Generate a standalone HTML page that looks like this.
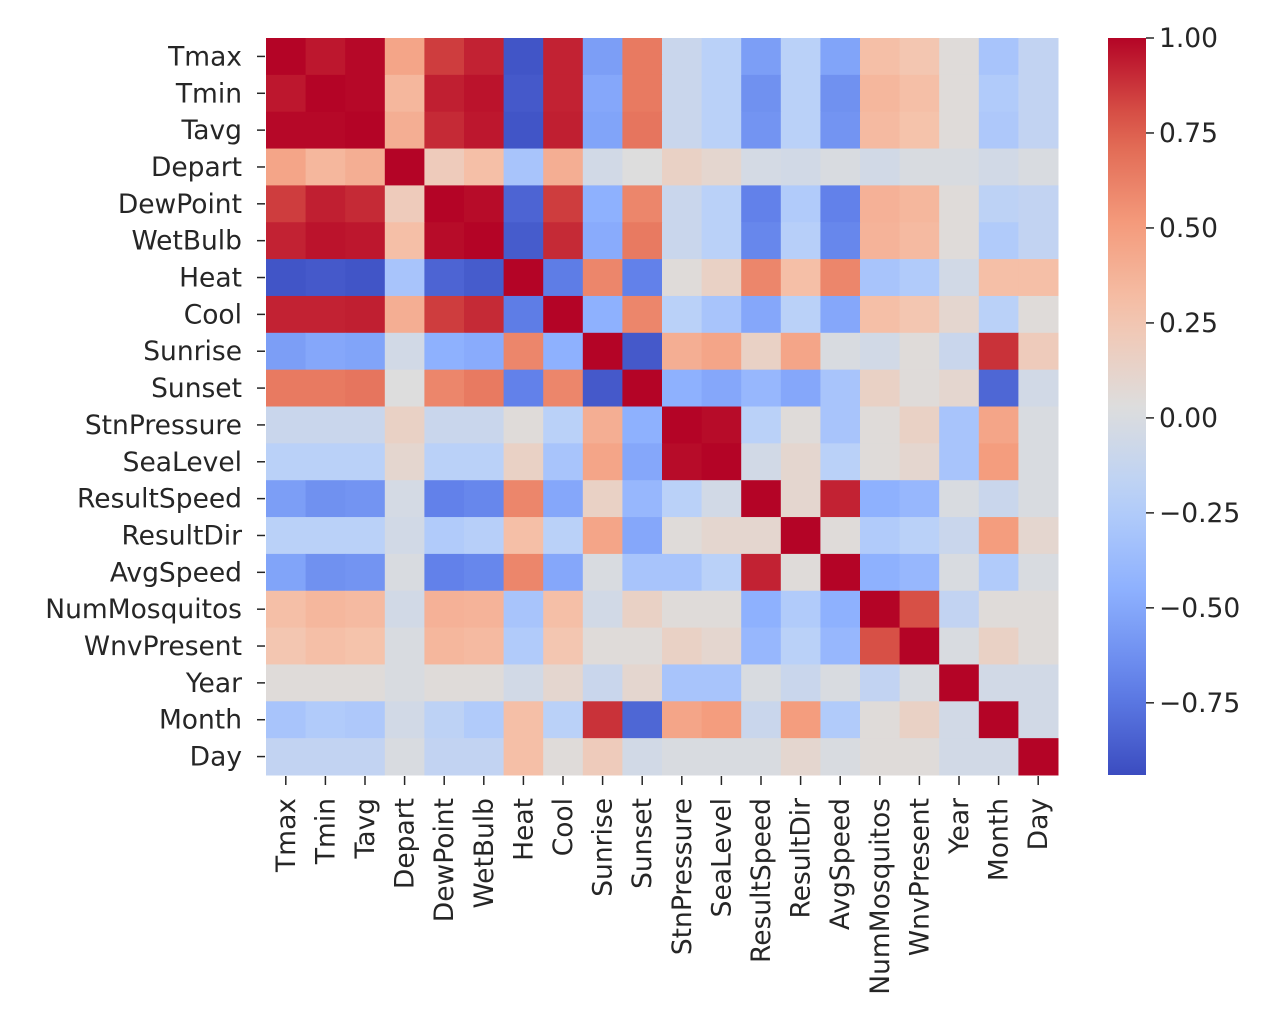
<!DOCTYPE html>
<html><head><meta charset="utf-8"><style>
body{margin:0;background:#fff;width:1270px;height:1022px;overflow:hidden}
text{font-family:"DejaVu Sans","Liberation Sans",sans-serif;fill:#262626}
</style></head><body>
<svg id="chart" width="1270" height="1022" xmlns="http://www.w3.org/2000/svg">
<defs><linearGradient id="cbg" x1="0" y1="1" x2="0" y2="0"></linearGradient></defs>
</svg>
<script>
const labels=["Tmax","Tmin","Tavg","Depart","DewPoint","WetBulb","Heat","Cool","Sunrise","Sunset","StnPressure","SeaLevel","ResultSpeed","ResultDir","AvgSpeed","NumMosquitos","WnvPresent","Year","Month","Day"];
const values=[
[1,.95,.99,.45,.85,.92,-.9,.92,-.55,.65,-.1,-.2,-.55,-.2,-.52,.3,.25,.05,-.3,-.15],
[.95,1,.99,.35,.93,.96,-.88,.92,-.5,.65,-.1,-.2,-.62,-.2,-.62,.35,.3,.05,-.25,-.15],
[.99,.99,1,.4,.9,.95,-.9,.93,-.52,.67,-.1,-.2,-.6,-.2,-.6,.33,.28,.05,-.27,-.15],
[.45,.35,.4,1,.2,.3,-.3,.4,-.05,.03,.15,.1,-.03,-.05,0,-.05,0,0,-.05,0],
[.85,.93,.9,.2,1,.98,-.83,.85,-.45,.6,-.1,-.2,-.7,-.25,-.7,.38,.35,.05,-.18,-.15],
[.92,.96,.95,.3,.98,1,-.87,.9,-.48,.65,-.1,-.2,-.67,-.22,-.67,.37,.33,.05,-.25,-.15],
[-.9,-.88,-.9,-.3,-.83,-.87,1,-.72,.6,-.7,.05,.15,.6,.3,.6,-.3,-.25,-.05,.3,.3],
[.92,.92,.93,.4,.85,.9,-.72,1,-.45,.6,-.2,-.3,-.5,-.2,-.5,.3,.25,.1,-.2,.05],
[-.55,-.5,-.52,-.05,-.45,-.48,.6,-.45,1,-.88,.4,.45,.15,.45,0,-.05,.05,-.1,.88,.2],
[.65,.65,.67,.03,.6,.65,-.7,.6,-.88,1,-.45,-.5,-.4,-.5,-.3,.15,.05,.1,-.82,-.05],
[-.1,-.1,-.1,.15,-.1,-.1,.05,-.2,.4,-.45,1,.98,-.2,.05,-.3,.05,.15,-.3,.45,0],
[-.2,-.2,-.2,.1,-.2,-.2,.15,-.3,.45,-.5,.98,1,-.05,.1,-.2,.05,.1,-.3,.5,0],
[-.55,-.62,-.6,-.03,-.7,-.67,.6,-.5,.15,-.4,-.2,-.05,1,.1,.92,-.45,-.4,0,-.1,0],
[-.2,-.2,-.2,-.05,-.25,-.22,.3,-.2,.45,-.5,.05,.1,.1,1,.05,-.25,-.2,-.1,.5,.1],
[-.52,-.62,-.6,0,-.7,-.67,.6,-.5,0,-.3,-.3,-.2,.92,.05,1,-.45,-.4,0,-.25,0],
[.3,.35,.33,-.05,.38,.37,-.3,.3,-.05,.15,.05,.05,-.45,-.25,-.45,1,.8,-.15,.05,.05],
[.25,.3,.28,0,.35,.33,-.25,.25,.05,.05,.15,.1,-.4,-.2,-.4,.8,1,0,.15,.05],
[.05,.05,.05,0,.05,.05,-.05,.1,-.1,.1,-.3,-.3,0,-.1,0,-.15,0,1,-.05,-.05],
[-.3,-.25,-.27,-.05,-.18,-.25,.3,-.2,.88,-.82,.45,.5,-.1,.5,-.25,.05,.15,-.05,1,-.05],
[-.15,-.15,-.15,0,-.15,-.15,.3,.05,.2,-.05,0,0,0,.1,0,.05,.05,-.05,-.05,1]];
const cbTicks=[1,0.75,0.5,0.25,0,-0.25,-0.5,-0.75];
const cbLabels=["1.00","0.75","0.50","0.25","0.00","\u22120.25","\u22120.50","\u22120.75"];
const vmin=-0.94,vmax=1.0;
const L=266,T=38,R=1058,B=775;
const cw=(R-L)/labels.length,ch=(B-T)/labels.length;
const CBX=1108,CBW=38,FS=26.5;
const cbY=v=>B-(v-vmin)/(vmax-vmin)*(B-T);
const stops=[[59,76,192],[98,130,234],[141,176,254],[184,208,249],[221,221,221],[245,196,173],[244,154,123],[222,96,77],[180,4,38]];
function color(v){let t=Math.max(0,Math.min(1,(v-vmin)/(vmax-vmin)))*8;let i=Math.min(7,Math.floor(t)),f=t-i;
const a=stops[i],b=stops[i+1];return `rgb(${a.map((c,k)=>Math.round(c+(b[k]-c)*f)).join(',')})`;}
const NS="http://www.w3.org/2000/svg",svg=document.getElementById('chart');
function mk(tag,attrs,parent){const e=document.createElementNS(NS,tag);for(const k in attrs)e.setAttribute(k,attrs[k]);(parent||svg).appendChild(e);return e;}
values.forEach((row,r)=>row.forEach((v,c)=>{
const e=mk('rect',{x:L+c*cw,y:T+r*ch,width:cw+0.5,height:ch+0.5,fill:color(v)});


}));
labels.forEach((lab,i)=>{
const y=T+(i+.5)*ch;
mk('line',{x1:L-9,x2:L-1,y1:y,y2:y,stroke:'#262626','stroke-width':1.5});
const t=mk('text',{x:L-24,y:y+9,'text-anchor':'end','font-size':FS});t.textContent=lab;


const x=L+(i+.5)*cw;
mk('line',{x1:x,x2:x,y1:B+1,y2:B+10,stroke:'#262626','stroke-width':1.5});
const t2=mk('text',{x:0,y:0,'text-anchor':'end','font-size':FS,transform:`translate(${x+9},${B+23}) rotate(-90)`});t2.textContent=lab;


});
const g=document.getElementById('cbg');
for(let k=0;k<=20;k++){mk('stop',{offset:k/20,'stop-color':color(vmin+(vmax-vmin)*k/20)},g);}
const cb=mk('rect',{x:CBX,y:T,width:CBW,height:B-T,fill:'url(#cbg)'});


cbTicks.forEach((v,i)=>{const y=cbY(v);
mk('line',{x1:CBX+CBW,x2:CBX+CBW+8,y1:y,y2:y,stroke:'#262626','stroke-width':1.5});
const t=mk('text',{x:CBX+CBW+13,y:y+9,'font-size':FS});t.textContent=cbLabels[i];


});
</script>
</body></html>
